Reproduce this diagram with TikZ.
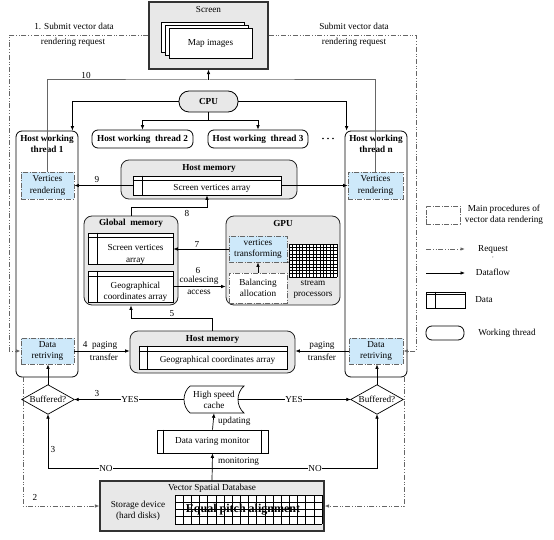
\documentclass[tikz,border=0pt]{standalone}
\usepackage{fontspec}
\setmainfont{Liberation Serif}
\usetikzlibrary{arrows.meta,calc}
\definecolor{procblue}{RGB}{206,233,250}
\definecolor{boxgray}{RGB}{232,232,232}
\newcommand\tabdeco[3]{%
  \draw[line width=0.7pt] ($(#1.north west)+(0,#3)$) -- ($(#1.north east)+(0,#3)$);
  \draw[line width=0.7pt] ($(#1.north west)+(#2,0)$) -- ($(#1.south west)+(#2,0)$);}
\begin{document}
\begin{tikzpicture}[x=1pt,y=-1pt,
 every node/.style={font=\fontsize{9.2}{11.2}\selectfont, inner sep=0pt, align=center},
 sz/.style 2 args={minimum width=#1pt, minimum height=#2pt},
 arr/.style={draw=black, line width=0.7pt, -{Latex[length=4.5pt,width=3.6pt]}},
 ln/.style={draw=black, line width=0.7pt},
 ln10/.style={draw=black!60, line width=1pt},
 reqln/.style={draw=black!60, line width=0.9pt, dash pattern=on 5pt off 2pt on 0.6pt off 2pt on 0.6pt off 2pt},
 reqarr/.style={reqln, -{Latex[length=4.5pt,width=3.6pt]}},
 gbox/.style={draw=black!85, fill=boxgray, line width=0.8pt, rounded corners=8pt},
 thr/.style={draw=black, line width=0.8pt, rounded corners=6pt},
 proc/.style={draw=black!60, line width=0.9pt, dash pattern=on 5pt off 1.5pt on 1pt off 1.5pt, fill=procblue},
 tab/.style={draw=black, line width=0.7pt, fill=white},
 ttl/.style={font=\fontsize{9.2}{11.2}\selectfont\bfseries},
 lbl/.style={fill=white, inner sep=0.5pt},
]
\useasboundingbox (0,0) rectangle (554,540);

% ---------- Screen ----------
\node[sz={119}{67}, draw=black!80, fill=boxgray, line width=1.1pt] (screen) at (208.5,35.5) {};
\node (screenT) at (208.5,10) {Screen};
\draw[tab] (161,22) rectangle (244,52);
\draw[tab] (165,25) rectangle (248,55);
\node[tab, sz={83}{30}] (map) at (210.5,43) {Map images};

% ---------- CPU & threads ----------
\node[sz={59}{21}, draw=black, fill=boxgray, line width=0.8pt, rounded corners=10pt, ttl] (cpu) at (208.5,101.5) {CPU};
\node[thr, sz={62}{246}] (t1) at (47,254) {};
\node[ttl] (t1T) at (47,144) {Host working\\thread 1};
\node[thr, sz={62}{246}] (tn) at (376,254) {};
\node[ttl] (tnT) at (376,144) {Host working\\thread n};
\node[thr, sz={101}{18}, ttl] (t2) at (142.5,139) {Host working\ \ thread 2};
\node[thr, sz={100}{18}, ttl] (t3) at (258,139) {Host working\ \ thread 3};
\foreach \dx in {-5,0,5} \fill (328+\dx,138.5) circle (0.9);

\coordinate (cpuj) at (208.5,120);
\draw[arr] (cpu.west) -| ($(t1.north east)+(-6,0)$);
\draw[arr] (cpu.east) -| ($(tn.north west)+(2,0)$);
\draw[ln] (cpu.south) -- (cpuj);
\draw[arr] (cpuj) -| (t2.north);
\draw[arr] (cpuj) -| (t3.north);

% ---------- procedure boxes ----------
\node[proc, sz={53}{27}] (vr1) at (47.5,185.5) {Vertices\\rendering};
\node[proc, sz={55}{27}] (vrn) at (375.5,185.5) {Vertices\\rendering};
\node[proc, sz={53}{26}] (dr1) at (47.5,351) {Data\\retriving};
\node[proc, sz={54}{26}] (drn) at (376,351) {Data\\retriving};

% ---------- line 10 ----------
\coordinate (s10) at (208.5,80);
\draw[ln10] (vr1.north) |- (s10) -| (vrn.north);
\draw[arr] (s10) -- (screen.south);
\node (l10) at (86,75) {10};

% ---------- Host memory (top) ----------
\node[gbox, sz={176}{39}] (hm1) at (209,179.5) {};
\node[ttl] (hm1T) at (209,168) {Host memory};
\node[tab, sz={148}{19}] (tab1) at (207,185.5) {};
\tabdeco{tab1}{10}{5}
\node (tab1T) at (212,188.5) {Screen vertices array};
\draw[arr] (tab1.west) -- (vr1.east);
\draw[arr] (tab1.east) -- (vrn.west);
\node (l9) at (97,179) {9};

% ---------- Global memory ----------
\node[gbox, sz={94}{89}] (gm) at (131,260.5) {};
\node[ttl] (gmT) at (131,223) {Global\ \ memory};
\node[tab, sz={85}{31}] (gt1) at (130.5,248.5) {};
\tabdeco{gt1}{10}{5}
\node (gt1T) at (135.5,254.5) {Screen vertices\\array};
\node[tab, sz={85}{31}] (gt2) at (130.5,286.5) {};
\tabdeco{gt2}{10}{6}
\node (gt2T) at (135.5,292) {Geographical\\coordinates array};

\draw[arr] (gm.north) |- ($(tab1.south)+(0,12)$) -- (tab1.south);
\node (l8) at (187,213) {8};

% ---------- GPU ----------
\node[gbox, sz={114}{89}] (gpu) at (283,260.5) {};
\node[ttl] (gpuT) at (283,223) {GPU};
\node[proc, sz={58}{26}] (vt) at (258,249) {vertices\\transforming};
\node[proc, fill=white, sz={58}{30}] (ba) at (258,288) {Balancing\\allocation};
\draw[arr] (ba.north) -- (vt.south);
\fill[white] (289,244) rectangle (337,277);
\foreach \i in {0,...,14} \draw[line width=0.6pt] ({289+\i*48/14},244) -- ({289+\i*48/14},277);
\foreach \j in {0,...,10} \draw[line width=0.6pt] (289,{244+\j*3.3}) -- (337,{244+\j*3.3});
\draw[line width=0.6pt] (vt.south east) -- (289,262);
\node (spT) at (313,289) {stream\\processors};

\draw[arr] (vt.west) -- (vt.west -| gt1.east);
\node (l7) at (197,244) {7};
\draw[arr] (gt2.east) -- (gt2.east -| gpu.west);
\node (l6) at (198,270.5) {6};
\node (l6a) at (199,280.5) {coalescing};
\node (l6b) at (199,292.5) {access};

% ---------- Host memory (bottom) ----------
\node[gbox, sz={165}{42}] (hm2) at (212.5,352) {};
\node[ttl] (hm2T) at (212.5,339) {Host memory};
\node[tab, sz={148}{23}] (tab2) at (213,357.5) {};
\tabdeco{tab2}{9}{6}
\node (tab2T) at (217.5,360.5) {Geographical coordinates array};

\draw[arr] (hm2.north) |- ($(gm.south)+(0,13)$) -- (gm.south);
\node (l5) at (172,314) {5};

\draw[arr] (dr1.east) -- (dr1.east -| hm2.west);
\node (l4) at (100,345) {4\ \ paging};
\node (l4b) at (104,357) {transfer};
\draw[arr] (drn.west) -- (drn.west -| hm2.east);
\node (l4r) at (322,345) {paging};
\node (l4rb) at (322,357) {transfer};

% ---------- Buffered? diamonds ----------
\node[sz={52}{29}] (d1) at (48,399.5) {Buffered?};
\draw[line width=0.7pt] (d1.north) -- (d1.east) -- (d1.south) -- (d1.west) -- cycle;
\node[sz={52}{29}] (d2) at (377,399.5) {Buffered?};
\draw[line width=0.7pt] (d2.north) -- (d2.east) -- (d2.south) -- (d2.west) -- cycle;
\draw[arr] (d1.north) -- (d1.north |- dr1.south);
\draw[arr] (d2.north) -- (d2.north |- drn.south);

% ---------- cache ----------
\node[sz={60}{27}] (cache) at (214,399.5) {High speed\\cache};
\draw[line width=0.7pt] (190,386) -- (244,386) .. controls (236,393) and (236,406) .. (244,413)
  -- (190,413) .. controls (182,406) and (182,393) .. (190,386);
\coordinate (cacheR) at (238,399.5);
\draw[arr] (cache.west) -- (d1.east);
\draw[arr] (cacheR) -- (d2.west);
\node[lbl] (yes1) at (130,399.5) {YES};
\node[lbl] (yes2) at (294,399.5) {YES};
\node (l3a) at (97,393) {3};

% ---------- monitor ----------
\node[tab, sz={111}{23}] (mon) at (212.5,441.5) {Data varing monitor};
\draw[line width=0.7pt] ($(mon.north west)+(7,0)$) -- ($(mon.south west)+(7,0)$);
\draw[line width=0.7pt] ($(mon.north east)+(-7,0)$) -- ($(mon.south east)+(-7,0)$);
\draw[arr] (mon.north) -- (cache.south);
\node[anchor=west] (upd) at (218,421) {updating};

% ---------- storage ----------
\node[sz={224}{50}, draw=black!80, fill=boxgray, line width=1.1pt] (db) at (212,506) {};
\node (dbT) at (212,488.5) {Vector Spatial Database};
\node (dbS) at (138,510.5) {Storage device\\(hard disks)};
\fill[white] (175,495) rectangle (322,524);
\foreach \i in {0,...,18} \draw[line width=0.6pt] ({175+\i*147/18},495) -- ({175+\i*147/18},524);
\foreach \j in {0,...,4} \draw[line width=0.6pt] (175,{495+\j*29/4}) -- (322,{495+\j*29/4});
\node[font=\fontsize{12}{14}\selectfont\bfseries] (eq) at (243,509.5) {Equal pitch alignment};

\coordinate (noj) at (212,468);
\draw[arr] (db.north) -- (mon.south);
\node[anchor=west] (mont) at (218,461) {monitoring};
\draw[arr] (noj) -| (d1.south);
\draw[arr] (noj) -| (d2.south);
\node[lbl] (no1) at (106,468) {NO};
\node[lbl] (no2) at (315,468) {NO};
\node (l3b) at (53,449) {3};

% ---------- request lines ----------
\coordinate (rqL) at (9,351);
\coordinate (rqR) at (416,351);
\draw[reqarr] (screen.west) -| (rqL) -- (dr1.west);
\draw[reqarr] (screen.east) -| (rqR) -- (drn.east);
\coordinate (rq2a) at (23,377);
\coordinate (rq2b) at (23,506);
\coordinate (rq2c) at (404,377);
\coordinate (rq2d) at (404,506);
\draw[reqarr] (rq2a) -- (rq2b) -- (db.west);
\draw[reqarr] (rq2c) -- (rq2d) -- (db.east);
\node (l2) at (35,497) {2};
\node (s1a) at (74,26) {1. Submit vector data};
\node (s1b) at (73,42) {rendering request};
\node (s2a) at (354,26) {Submit vector data};
\node (s2b) at (354,42) {rendering request};

% ---------- legend ----------
\node[draw=black!60, line width=0.9pt, dash pattern=on 5pt off 1.5pt on 1pt off 1.5pt, sz={34}{18}] (lg1) at (443,215) {};
\node (lg1T) at (504,215) {Main procedures of\\vector data rendering};
\coordinate (lg2a) at (426,249);
\coordinate (lg2b) at (465,249);
\draw[reqarr] (lg2a) -- (lg2b);
\node (lg2T) at (493,249) {Request};
\node[font=\fontsize{5}{6}\selectfont] (lg2c) at (493,258) {,};
\coordinate (lg3a) at (426,273);
\coordinate (lg3b) at (465,273);
\draw[arr] (lg3a) -- (lg3b);
\node (lg3T) at (493,272.5) {Dataflow};
\node[tab, sz={39}{16}] (lg4) at (445.5,300) {};
\tabdeco{lg4}{10}{3}
\node (lg4T) at (484,300) {Data};
\node[thr, sz={38}{14}] (lg5) at (445,333) {};
\node (lg5T) at (507,333) {Working thread};
\end{tikzpicture}
\end{document}
